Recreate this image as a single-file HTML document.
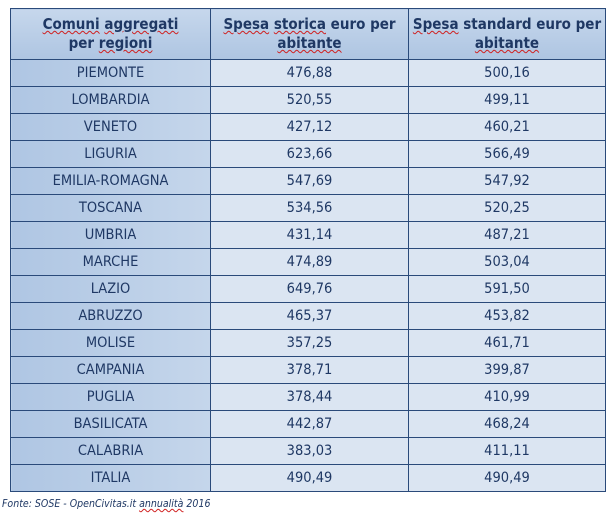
<!DOCTYPE html>
<html><head><meta charset="utf-8"><style>
body{margin:0;width:613px;height:518px;background:#fff;position:relative;overflow:hidden;font-family:"DejaVu Sans Condensed","Liberation Sans",sans-serif;}
table{position:absolute;left:10px;top:8px;width:595px;border-collapse:collapse;table-layout:fixed;color:#1f3864;}
td,th{border:1.5px solid #2a4a7a;text-align:center;padding:0;font-size:14.5px;white-space:nowrap;overflow:hidden;}
th{height:50px;background:linear-gradient(#c6d7ec,#aec5e2);font-weight:bold;font-size:15px;line-height:19px;}
td{height:26px;background:#dbe5f2;}
td.r{background:linear-gradient(90deg,#afc6e3,#c5d6eb);}
.u{text-decoration:underline wavy #d02020;text-decoration-thickness:1px;}
#src{position:absolute;left:2px;top:498px;font-size:10.5px;font-style:italic;color:#1f3864;}
</style></head><body>
<table>
<colgroup><col style="width:200px"><col style="width:198px"><col style="width:197px"></colgroup>
<tr>
<th><span class="u">Comuni</span> <span class="u">aggregati</span><br>per <span class="u">regioni</span></th>
<th><span class="u">Spesa</span> <span class="u">storica</span> euro per<br><span class="u">abitante</span></th>
<th><span class="u">Spesa</span> standard euro per<br><span class="u">abitante</span></th>
</tr>
<tbody id="tb"></tbody>
</table>
<div id="src">Fonte: SOSE - OpenCivitas.it <span class="u">annualità</span> 2016</div>
<script>
const regions=["PIEMONTE","LOMBARDIA","VENETO","LIGURIA","EMILIA-ROMAGNA","TOSCANA","UMBRIA","MARCHE","LAZIO","ABRUZZO","MOLISE","CAMPANIA","PUGLIA","BASILICATA","CALABRIA","ITALIA"];
const storica=["476,88","520,55","427,12","623,66","547,69","534,56","431,14","474,89","649,76","465,37","357,25","378,71","378,44","442,87","383,03","490,49"];
const standard=["500,16","499,11","460,21","566,49","547,92","520,25","487,21","503,04","591,50","453,82","461,71","399,87","410,99","468,24","411,11","490,49"];
const tb=document.getElementById('tb');
regions.forEach((r,i)=>{
const tr=document.createElement('tr');


const a=document.createElement('td');a.className='r';a.textContent=r;


const b=document.createElement('td');b.textContent=storica[i];


const c=document.createElement('td');c.textContent=standard[i];


tr.append(a,b,c);tb.appendChild(tr);
});
</script>
</body></html>
